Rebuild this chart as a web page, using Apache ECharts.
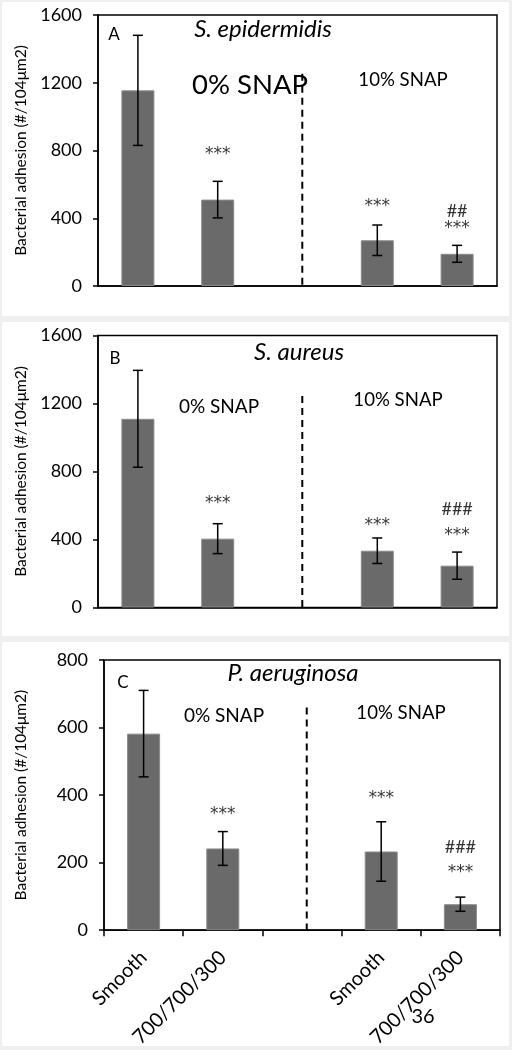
<!DOCTYPE html>
<html>
<head>
<meta charset="utf-8">
<script src="https://cdn.jsdelivr.net/npm/echarts@6/dist/echarts.min.js"></script>
<style>
html,body{margin:0;padding:0;background:#efefef;}
#chart{width:512px;height:1050px;}
</style>
</head>
<body>
<div id="chart"></div>
<script>
// ---- data ----
const categories = ['Smooth', '700/700/300', '', 'Smooth', '700/700/300'];
const yTicksAB = [0, 400, 800, 1200, 1600];
const yTicksC = [0, 200, 400, 600, 800];

const meanA = [1155, 510, null, 270, 190];
const sdA   = [325, 108, null, 90, 50];
const meanB = [1110, 405, null, 334, 246];
const sdB   = [285, 88, null, 75, 80];
const meanC = [582, 242, null, 233, 77];
const sdC   = [128, 50, null, 88, 21];

// significance marks: [category index, value level, text]
const marksA = [[1, 776, '***'], [3, 470, '***'], [4, 441, '##'], [4, 341, '***']];
const marksB = [[1, 609, '***'], [3, 479, '***'], [4, 579, '###'], [4, 421, '***']];
const marksC = [[1, 341, '***'], [3, 391, '***'], [4, 247, '###'], [4, 171, '***']];

// dashed divider: [category position, top value]
const dividerA = [[2, 1253]];
const dividerB = [[2, 1244]];
const dividerC = [[2, 659]];

const yTitle = 'Bacterial adhesion (#/104μm2)';

// ---- chart ----
const FONT = 'Lato';
const chart = echarts.init(document.getElementById('chart'), null, {renderer: 'canvas'});

const grids = [
  {left: 98, right: 15, top: 15, height: 271},
  {left: 98, right: 15, top: 335.5, height: 272},
  {left: 104, right: 12, top: 660, height: 272}
];

function xAxisFor(i, showLabels) {
  return {
    type: 'category', gridIndex: i, data: categories,
    axisLine: {lineStyle: {color: '#000', width: 1.5}},
    axisTick: {show: showLabels, length: 6, lineStyle: {color: '#000', width: 1.5}},
    axisLabel: showLabels ? {
      show: true, rotate: 45, interval: 0, margin: 24,
      fontFamily: FONT, fontSize: 20, color: '#000'
    } : {show: false},
    splitLine: {show: false}
  };
}
function yAxisFor(i, ticks, gap) {
  return {
    type: 'value', gridIndex: i, min: ticks[0], max: ticks[ticks.length - 1],
    interval: ticks[1] - ticks[0],
    name: yTitle, nameLocation: 'middle', nameGap: gap, nameRotate: 90,
    nameTextStyle: {fontFamily: FONT, fontSize: 15.5, color: '#000'},
    axisLine: {show: true, lineStyle: {color: '#000', width: 1.5}},
    axisTick: {show: true, length: 5, lineStyle: {color: '#000', width: 1.5}},
    axisLabel: {fontFamily: FONT, fontSize: 18, color: '#000', margin: 16,
      formatter: v => String(v)},
    splitLine: {show: false}
  };
}

function barSeries(i, mean) {
  return {
    type: 'bar', xAxisIndex: i, yAxisIndex: i, data: mean, barWidth: 33,
    itemStyle: {color: '#6a6a6a', borderColor: '#8a8a8a', borderWidth: 1},
    silent: true, z: 2
  };
}
function errSeries(i, mean, sd) {
  const data = mean.map((m, k) => m == null ? null : [k, m, sd[k]]).filter(d => d);
  return {
    type: 'custom', xAxisIndex: i, yAxisIndex: i, data: data, z: 5, silent: true,
    renderItem: function (params, api) {
      const x = api.value(0), m = api.value(1), s = api.value(2);
      const hi = api.coord([x, m + s]);
      const lo = api.coord([x, m - s]);
      const cap = 5;
      const st = {stroke: '#000', lineWidth: 1.5};
      return {type: 'group', children: [
        {type: 'line', shape: {x1: hi[0], y1: hi[1], x2: lo[0], y2: lo[1]}, style: st},
        {type: 'line', shape: {x1: hi[0] - cap, y1: hi[1], x2: hi[0] + cap, y2: hi[1]}, style: st},
        {type: 'line', shape: {x1: lo[0] - cap, y1: lo[1], x2: lo[0] + cap, y2: lo[1]}, style: st}
      ]};
    }
  };
}
function dividerSeries(i, div) {
  return {
    type: 'custom', xAxisIndex: i, yAxisIndex: i, data: div, z: 4, silent: true,
    renderItem: function (params, api) {
      const top = api.coord([api.value(0), api.value(1)]);
      const bot = api.coord([api.value(0), 0]);
      const dx = api.size([1, 0])[0] * 0.06;
      return {type: 'line', shape: {x1: top[0] + dx, y1: top[1], x2: bot[0] + dx, y2: bot[1]},
        style: {stroke: '#000', lineWidth: 2, lineDash: [7, 5]}};
    }
  };
}
function markSeries(i, marks) {
  return {
    type: 'scatter', xAxisIndex: i, yAxisIndex: i, symbolSize: 0, silent: true, z: 6,
    data: marks.map(m => ({
      value: [m[0], m[1]],
      label: m[2].charAt(0) === '*'
        ? {formatter: m[2], fontFamily: 'DejaVu Sans', fontSize: 17}
        : {formatter: m[2], fontFamily: FONT, fontSize: 18}
    })),
    label: {show: true, position: 'inside', color: '#000'}
  };
}

function txt(x, y, s, size, extra) {
  return Object.assign({type: 'text', x: x, y: y, z: 10, silent: true,
    style: {text: s, fontFamily: FONT, fontSize: size, fill: '#000', align: 'center', verticalAlign: 'middle'}}, extra || {});
}
function italic(x, y, s, size) {
  const t = txt(x, y, s, size);
  t.style.fontStyle = 'italic';
  return t;
}

const graphic = [
  {type: 'rect', z: -10, silent: true, shape: {x: 2, y: 2, width: 507, height: 314}, style: {fill: '#fff'}},
  {type: 'rect', z: -10, silent: true, shape: {x: 2, y: 322, width: 507, height: 314}, style: {fill: '#fff'}},
  {type: 'rect', z: -10, silent: true, shape: {x: 2, y: 642, width: 507, height: 404}, style: {fill: '#fff'}},
  txt(114, 35, 'A', 17),
  italic(263, 29, 'S. epidermidis', 24),
  txt(250, 85, '0% SNAP', 27.5),
  txt(403, 80, '10% SNAP', 18.6),
  txt(115, 359, 'B', 17),
  italic(299, 352, 'S. aureus', 24),
  txt(219, 407, '0% SNAP', 19),
  txt(398, 400, '10% SNAP', 18.6),
  txt(123, 683, 'C', 17),
  italic(293, 673, 'P. aeruginosa', 24),
  txt(224, 716, '0% SNAP', 19),
  txt(401, 713, '10% SNAP', 18.6),
  txt(423, 1017, '36', 20)
];

const option = {
  backgroundColor: '#efefef',
  animation: false,
  grid: grids.map(g => Object.assign({show: true, borderColor: '#000', borderWidth: 1.5, backgroundColor: 'transparent'}, g)),
  xAxis: [xAxisFor(0, false), xAxisFor(1, false), xAxisFor(2, true)],
  yAxis: [yAxisFor(0, yTicksAB, 69), yAxisFor(1, yTicksAB, 69), yAxisFor(2, yTicksC, 75)],
  series: [
    barSeries(0, meanA), errSeries(0, meanA, sdA), dividerSeries(0, dividerA), markSeries(0, marksA),
    barSeries(1, meanB), errSeries(1, meanB, sdB), dividerSeries(1, dividerB), markSeries(1, marksB),
    barSeries(2, meanC), errSeries(2, meanC, sdC), dividerSeries(2, dividerC), markSeries(2, marksC)
  ],
  graphic: graphic
};
chart.setOption(option);
</script>
</body>
</html>
